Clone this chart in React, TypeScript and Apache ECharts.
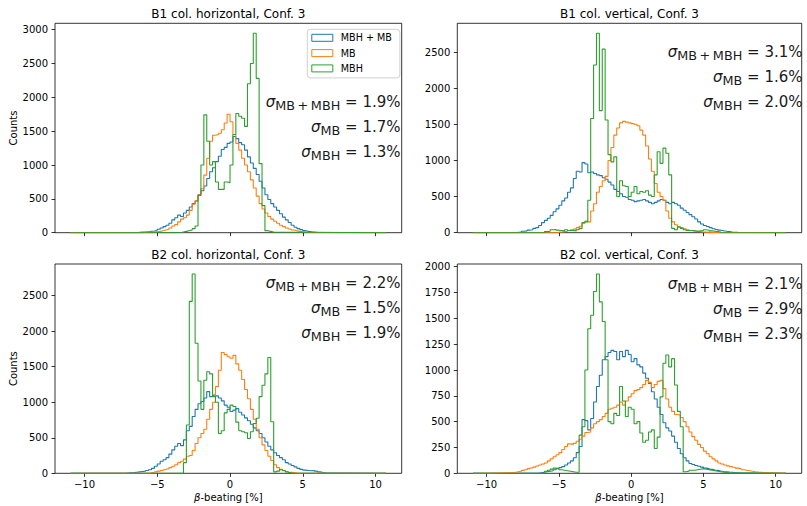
import React, { useEffect, useRef } from "react";
import * as echarts from "echarts";

// ---------- data ----------
const BIN = 0.2; // bin width [%]
const DATA_LO = -10.95; // histogram range (lines run along 0 here)
const DATA_HI = 10.72;
const X_MIN = -12.03;
const X_MAX = 11.8;

const seriesNames = ["MBH + MB", "MB", "MBH"];
const panelTitles = [
  "B1 col. horizontal, Conf. 3",
  "B1 col. vertical, Conf. 3",
  "B2 col. horizontal, Conf. 3",
  "B2 col. vertical, Conf. 3",
];
const xTicks = [-10, -5, 0, 5, 10];
const yTicksTL = [0, 500, 1000, 1500, 2000, 2500, 3000];
const yTicksTR = [0, 500, 1000, 1500, 2000, 2500];
const yTicksBL = [0, 500, 1000, 1500, 2000, 2500];
const yTicksBR = [0, 250, 500, 750, 1000, 1250, 1500, 1750, 2000];

const sigmaLabels = ["MB+MBH", "MB", "MBH"];
const sigmaTL = [1.9, 1.7, 1.3];
const sigmaTR = [3.1, 1.6, 2.0];
const sigmaBL = [2.2, 1.5, 1.9];
const sigmaBR = [2.1, 2.9, 2.3];

// B1 horizontal
const tlBlueStart = -6.4;
const tlBlue = [5, 8, 10, 15, 20, 25, 35, 50, 70, 90, 110, 140, 190, 220, 260, 240, 290, 330, 380, 430, 470, 560, 620, 690, 800, 900, 960, 1050, 1130, 1230, 1260, 1320, 1340, 1420, 1390, 1330, 1300, 1220, 1120, 1030, 950, 860, 760, 660, 560, 490, 430, 380, 330, 280, 230, 190, 150, 110, 80, 60, 45, 30, 20, 12, 8, 5];
const tlOrangeStart = -6.0;
const tlOrange = [5, 8, 10, 12, 15, 20, 30, 40, 50, 70, 100, 120, 160, 200, 220, 260, 330, 420, 470, 560, 650, 850, 1100, 1350, 1440, 1450, 1470, 1520, 1620, 1750, 1640, 1450, 1320, 1220, 1100, 1000, 900, 780, 660, 540, 430, 350, 290, 240, 200, 170, 140, 110, 90, 70, 55, 40, 30, 20, 15, 10, 6];
const tlGreenStart = -3.4;
const tlGreen = [10, 20, 30, 40, 60, 100, 550, 1000, 1740, 1350, 1000, 1050, 750, 640, 640, 750, 740, 1000, 1450, 1760, 1720, 1690, 1570, 2200, 2500, 2946, 2280, 1020, 400, 30, 20, 10];

// B1 vertical
const trBlueStart = -8.0;
const trBlue = [5, 10, 20, 25, 35, 40, 60, 70, 100, 140, 170, 200, 240, 290, 330, 380, 440, 480, 560, 620, 750, 850, 840, 970, 950, 830, 840, 820, 800, 790, 760, 740, 700, 660, 600, 570, 540, 500, 490, 460, 450, 430, 440, 450, 460, 440, 420, 400, 420, 440, 460, 450, 420, 400, 420, 400, 380, 340, 310, 280, 250, 220, 190, 150, 120, 100, 85, 70, 55, 45, 35, 28, 20, 15, 10, 7, 4];
const trOrangeStart = -5.0;
const trOrange = [10, 15, 20, 30, 40, 50, 70, 90, 130, 160, 150, 300, 400, 560, 640, 720, 780, 1000, 1180, 1350, 1450, 1520, 1540, 1530, 1520, 1510, 1500, 1480, 1420, 1350, 1200, 1020, 850, 680, 560, 500, 450, 300, 200, 150, 110, 80, 70, 55, 40, 30, 25, 20, 15, 10, 8, 6, 4];
const trGreenStart = -6.0;
const trGreen = [15, 20, 40, 45, 35, 30, 25, 40, 30, 30, 25, 40, 60, 140, 150, 450, 1580, 2320, 2760, 1690, 2540, 1560, 1080, 980, 1050, 500, 720, 650, 640, 500, 560, 640, 540, 570, 560, 580, 520, 500, 800, 1120, 960, 1170, 1100, 800, 60, 40, 80, 60, 40, 30, 30, 25, 20, 25, 30, 40, 35, 25, 20, 15, 10];

// B2 horizontal
const blBlueStart = -7.2;
const blBlue = [5, 8, 10, 15, 20, 25, 30, 40, 50, 70, 100, 130, 170, 190, 220, 270, 330, 380, 420, 390, 470, 600, 660, 800, 900, 980, 1010, 1060, 1150, 1080, 1100, 1090, 1060, 1020, 960, 930, 870, 890, 910, 860, 820, 780, 740, 690, 640, 600, 560, 500, 440, 380, 330, 290, 250, 220, 190, 150, 130, 110, 90, 70, 55, 45, 40, 35, 40, 30, 20, 12, 8, 5, 3, 3, 2, 2];
const blOrangeStart = -5.4;
const blOrange = [10, 20, 30, 40, 50, 60, 80, 100, 120, 150, 170, 200, 240, 250, 320, 420, 500, 560, 620, 760, 900, 1000, 1220, 1450, 1700, 1670, 1640, 1620, 1660, 1540, 1450, 1320, 1180, 1050, 900, 760, 620, 500, 400, 320, 240, 180, 120, 80, 55, 35, 25, 15, 10, 5];
const blGreenStart = -3.2;
const blGreen = [150, 680, 2420, 2806, 1830, 1300, 900, 1310, 1430, 1400, 1080, 1000, 560, 600, 850, 900, 960, 940, 720, 600, 585, 570, 490, 585, 700, 775, 1080, 1240, 1400, 1630, 725, 20, 30, 50, 40, 20, 10];

// B2 vertical
const brBlueStart = -6.4;
const brBlue = [5, 10, 15, 20, 25, 35, 45, 55, 65, 80, 100, 120, 150, 200, 260, 520, 510, 420, 530, 690, 840, 950, 1100, 1130, 1170, 1190, 1180, 1100, 1180, 1130, 1190, 1150, 1080, 1110, 1050, 1030, 970, 920, 870, 790, 720, 640, 570, 490, 440, 410, 360, 300, 240, 190, 150, 120, 95, 85, 75, 68, 60, 50, 45, 38, 32, 28, 22, 18, 15, 12, 10, 7, 5, 3];
const brOrangeStart = -10.0;
const brOrange = [1, 2, 2, 3, 3, 4, 5, 6, 8, 10, 15, 20, 28, 35, 45, 52, 60, 70, 80, 90, 100, 120, 140, 160, 180, 200, 230, 260, 285, 280, 290, 310, 330, 360, 395, 400, 440, 480, 500, 520, 550, 580, 620, 630, 640, 660, 690, 660, 700, 740, 770, 800, 810, 830, 860, 900, 880, 830, 860, 890, 900, 820, 720, 640, 600, 570, 565, 540, 500, 450, 400, 355, 320, 280, 250, 215, 190, 160, 140, 120, 100, 90, 80, 72, 65, 58, 50, 45, 35, 30, 25, 20, 15, 12, 10, 8, 6, 5, 4, 3, 2, 1];
const brGreenStart = -6.0;
const brGreen = [20, 30, 40, 50, 45, 35, 30, 25, 20, 15, 10, 10, 370, 450, 1000, 1400, 1530, 1760, 1930, 1660, 1470, 1100, 500, 480, 580, 560, 840, 700, 550, 640, 620, 480, 500, 390, 300, 320, 400, 420, 240, 350, 740, 1065, 1145, 1030, 1110, 855, 600, 450, 15, 20, 30, 30, 35, 40, 45, 40, 35, 30, 25, 20, 15, 10, 8, 5, 3];

// ---------- layout / style ----------
const FONT = "DejaVu Sans";
const COLORS = ["#1f77b4", "#ff7f0e", "#2ca02c"];

const panels = [
  { grid: { left: 55, top: 23.3, width: 346.7, height: 209.4 }, titleTop: 7.6, yTicks: yTicksTL, sigma: sigmaTL, sigmaRight: 400.5, sigmaBase: 106, sets: [[tlBlueStart, tlBlue], [tlOrangeStart, tlOrange], [tlGreenStart, tlGreen]] },
  { grid: { left: 457.3, top: 23.3, width: 344.4, height: 209.4 }, titleTop: 7.6, yTicks: yTicksTR, sigma: sigmaTR, sigmaRight: 802.5, sigmaBase: 56, sets: [[trBlueStart, trBlue], [trOrangeStart, trOrange], [trGreenStart, trGreen]] },
  { grid: { left: 55, top: 264, width: 346.7, height: 209.3 }, titleTop: 248.6, yTicks: yTicksBL, sigma: sigmaBL, sigmaRight: 400.5, sigmaBase: 287.3, sets: [[blBlueStart, blBlue], [blOrangeStart, blOrange], [blGreenStart, blGreen]] },
  { grid: { left: 457.3, top: 264, width: 344.4, height: 209.3 }, titleTop: 248.6, yTicks: yTicksBR, sigma: sigmaBR, sigmaRight: 802.5, sigmaBase: 288, sets: [[brBlueStart, brBlue], [brOrangeStart, brOrange], [brGreenStart, brGreen]] },
];

function steps(start: number, counts: number[]): [number, number][] {
  const pts: [number, number][] = [[DATA_LO, 0]];
  counts.forEach((c, i) => pts.push([+(start + i * BIN).toFixed(3), c]));
  pts.push([+(start + counts.length * BIN).toFixed(3), 0]);
  pts.push([DATA_HI, 0]);
  return pts;
}

const minusFmt = (v: number) => (v < 0 ? "\u2212" + Math.abs(v) : String(v));
const plainFmt = (v: number) => String(Math.round(v));

function buildOption() {
  const grids: any[] = [];
  const xAxes: any[] = [];
  const yAxes: any[] = [];
  const series: any[] = [];
  const titles: any[] = [];
  const graphics: any[] = [];

  panels.forEach((p, i) => {
    const bottomRow = i >= 2;
    const leftCol = i % 2 === 0;
    const allCounts = p.sets.flatMap((s) => s[1] as number[]);
    const yMax = Math.max(...allCounts) * 1.05;

    grids.push({
      ...p.grid,
      show: true,
      borderColor: "#000",
      borderWidth: 0.8,
      backgroundColor: "transparent",
      containLabel: false,
      outerBoundsMode: "none",
    });

    xAxes.push({
      type: "value",
      gridIndex: i,
      min: X_MIN,
      max: X_MAX,
      splitLine: { show: false },
      axisLine: { show: false, onZero: false },
      axisTick: { show: true, length: 3.5, customValues: xTicks, lineStyle: { color: "#000", width: 0.8 } },
      axisLabel: {
        show: bottomRow,
        customValues: xTicks,
        formatter: minusFmt,
        fontSize: 10,
        color: "#000",
        fontFamily: FONT,
        margin: 6,
      },
      name: bottomRow ? "{i|\u03b2}-beating [%]" : "",
      nameLocation: "middle",
      nameGap: 19,
      nameTextStyle: {
        fontSize: 10,
        color: "#000",
        fontFamily: FONT,
        rich: { i: { fontStyle: "italic", fontSize: 10, fontFamily: FONT, color: "#000" } },
      },
    });

    yAxes.push({
      type: "value",
      gridIndex: i,
      min: 0,
      max: yMax,
      splitLine: { show: false },
      axisLine: { show: false, onZero: false },
      axisTick: { show: true, length: 3.5, customValues: p.yTicks, lineStyle: { color: "#000", width: 0.8 } },
      axisLabel: {
        customValues: p.yTicks,
        formatter: plainFmt,
        fontSize: 10,
        color: "#000",
        fontFamily: FONT,
        margin: 7,
      },
      name: leftCol ? "Counts" : "",
      nameLocation: "middle",
      nameGap: 37,
      nameTextStyle: { fontSize: 10, color: "#000", fontFamily: FONT },
    });

    p.sets.forEach((s, k) => {
      series.push({
        type: "line",
        name: seriesNames[k],
        xAxisIndex: i,
        yAxisIndex: i,
        data: steps(s[0] as number, s[1] as number[]),
        step: "end",
        symbol: "none",
        showSymbol: false,
        silent: true,
        clip: true,
        lineStyle: { color: COLORS[k], width: 1.1 },
        itemStyle: { color: COLORS[k] },
        emphasis: { disabled: true },
        z: 2 + k,
      });
    });

    titles.push({
      text: panelTitles[i],
      left: p.grid.left + p.grid.width / 2,
      top: p.titleTop,
      textAlign: "center",
      padding: 0,
      textStyle: { fontSize: 12, fontWeight: "normal", color: "#000", fontFamily: FONT },
    });

    sigmaLabels.forEach((lab, k) => {
      const subText = lab.replace("+", "\u2009+\u2009");
      graphics.push({
        type: "text",
        x: p.sigmaRight,
        y: p.sigmaBase + 25 * k - 14.5,
        z: 10,
        silent: true,
        style: {
          text: `{s|\u03c3}{b|${subText}}{n| = ${p.sigma[k].toFixed(1)}%}`,
          align: "right",
          verticalAlign: "top",
          fill: "#000",
          rich: {
            s: { fontSize: 15, fontStyle: "italic", fontFamily: FONT, lineHeight: 20, fill: "#1a1a1a" },
            b: { fontSize: 12.8, fontFamily: FONT, lineHeight: 13.6, verticalAlign: "bottom", fill: "#1a1a1a" },
            n: { fontSize: 15, fontFamily: FONT, lineHeight: 20, fill: "#1a1a1a" },
          },
        },
      });
    });
  });

  return {
    animation: false,
    textStyle: { fontFamily: FONT },
    title: titles,
    legend: {
      data: seriesNames.map((n, k) => ({
        name: n,
        icon: "rect",
        itemStyle: { color: "rgba(255,255,255,0)", borderColor: COLORS[k], borderWidth: 1 },
      })),
      orient: "vertical",
      left: 307.3,
      top: 29.3,
      itemWidth: 21,
      itemHeight: 7,
      itemGap: 3.3,
      padding: [2.5, 8, 3.5, 4],
      borderColor: "#d0d0d0",
      borderWidth: 1,
      borderRadius: 3,
      backgroundColor: "rgba(255,255,255,0.8)",
      selectedMode: false,
      textStyle: { fontSize: 9.6, color: "#000", fontFamily: FONT, lineHeight: 12, padding: [0, 0, 0, 3] },
      z: 20,
    },
    grid: grids,
    xAxis: xAxes,
    yAxis: yAxes,
    series,
    graphic: graphics,
  };
}

export default function App() {
  const ref = useRef<HTMLDivElement>(null);
  useEffect(() => {
    document.body.style.margin = "0";
    if (!ref.current) return;
    const chart = echarts.init(ref.current, undefined, { renderer: "svg" });
    chart.setOption(buildOption() as any);
    return () => chart.dispose();
  }, []);
  return (
    <div
      ref={ref}
      style={{ position: "fixed", left: 0, top: 0, width: 807, height: 506, background: "#fff" }}
    />
  );
}
